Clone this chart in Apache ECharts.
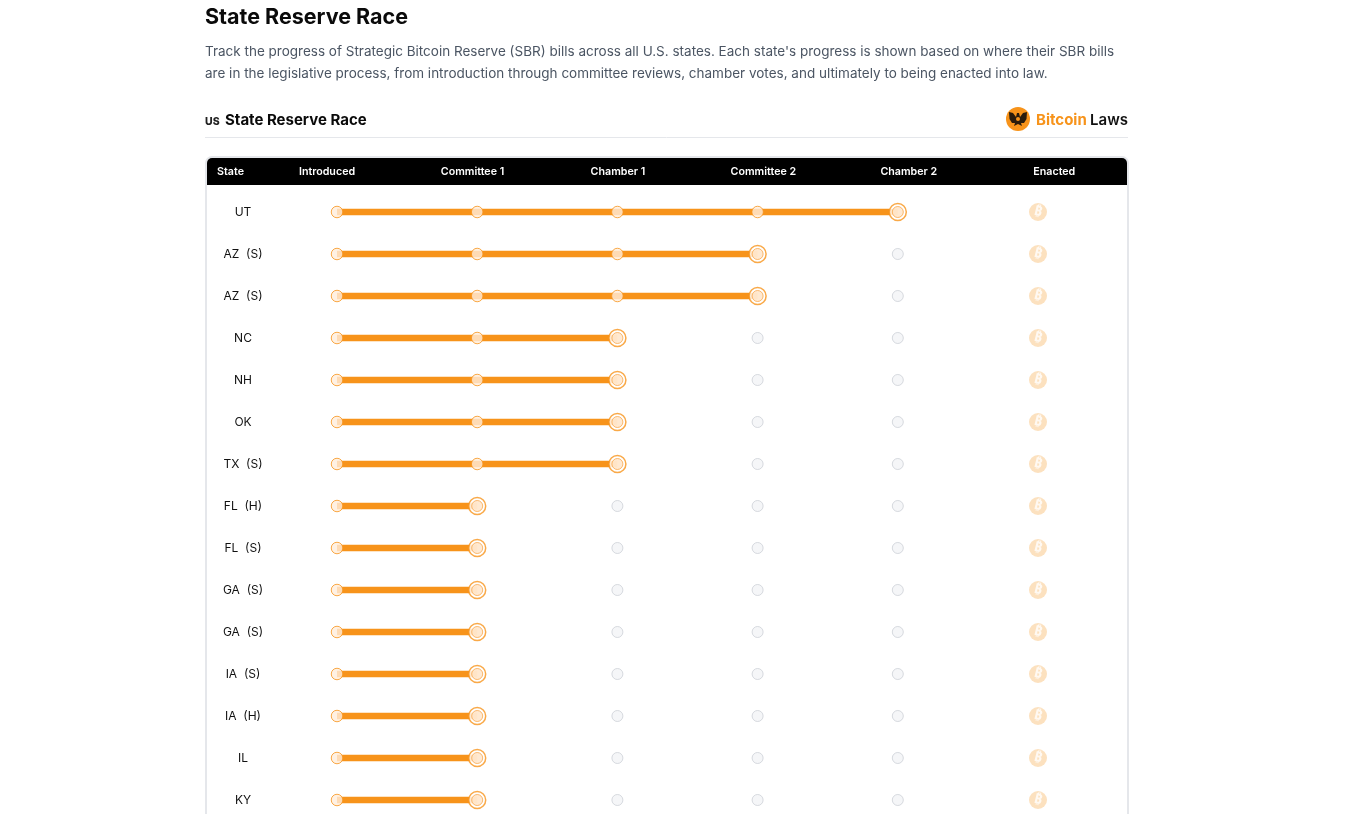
<!DOCTYPE html>
<html>
<head>
<meta charset="utf-8">
<title>State Reserve Race</title>
<script src="https://cdn.jsdelivr.net/npm/echarts@6/dist/echarts.min.js"></script>
<style>
  html, body { margin: 0; padding: 0; background: #fff; overflow: hidden; height: 814px; }
  /* the table runs past the bottom of the window, so the canvas does too */
  #chart { width: 1360px; height: 840px; }
</style>
</head>
<body>
<div id="chart"></div>
<script>
const stages = ["Introduced", "Committee 1", "Chamber 1", "Committee 2", "Chamber 2", "Enacted"];
const states = ["UT", "AZ  (S)", "AZ  (S)", "NC", "NH", "OK", "TX  (S)", "FL  (H)", "FL  (S)", "GA  (S)", "GA  (S)", "IA  (S)", "IA  (H)", "IL", "KY"];
// index of the stage each bill has reached
const progress = [4, 3, 3, 2, 2, 2, 2, 1, 1, 1, 1, 1, 1, 1, 1];

const ORANGE = "#F7931A";
const FONT = "Inter, 'Noto Sans', sans-serif";

const donePoints = [];
const currentPoints = [];
const pendingPoints = [];
const enactedPoints = [];
progress.forEach((p, row) => {
  for (let s = 0; s < 5; s++) {
    if (s < p) donePoints.push([s, row]);
    else if (s === p) currentPoints.push([s, row]);
    else pendingPoints.push([s, row]);
  }
  enactedPoints.push([5, row]);
});

const chart = echarts.init(document.getElementById("chart"));

chart.setOption({
  animation: false,
  textStyle: { fontFamily: FONT },
  title: [
    {
      text: "State Reserve Race",
      left: 205, top: 7,
      textStyle: { fontFamily: FONT, fontSize: 21.5, fontWeight: 700, color: "#0a0a0a" },
      padding: 0,
    },
    {
      text: "Track the progress of Strategic Bitcoin Reserve (SBR) bills across all U.S. states. Each state's progress is shown based on where their SBR bills\nare in the legislative process, from introduction through committee reviews, chamber votes, and ultimately to being enacted into law.",
      left: 205, top: 41,
      textStyle: { fontFamily: FONT, fontSize: 13.5, fontWeight: 400, color: "#4B5563", lineHeight: 22 },
      padding: 0,
    },
    {
      text: "State Reserve Race",
      left: 225, top: 113,
      textStyle: { fontFamily: FONT, fontSize: 15, fontWeight: 700, color: "#0a0a0a" },
      padding: 0,
    },
  ],
  graphic: [
    // table frame and black header band
    { type: "rect", z: -10, shape: { x: 206, y: 157, width: 922, height: 720, r: 6 },
      style: { fill: "#fff", stroke: "#E5E7EB", lineWidth: 2 } },
    { type: "rect", z: -9, shape: { x: 207, y: 158, width: 920, height: 27, r: [5, 5, 0, 0] },
      style: { fill: "#000" } },
    { type: "text", style: { x: 230.5, y: 171.5, text: "State", align: "center", verticalAlign: "middle",
      font: "600 10.7px " + FONT, fill: "#fff" } },
    // heading row
    { type: "line", shape: { x1: 205, y1: 137.5, x2: 1128, y2: 137.5 }, style: { stroke: "#E5E7EB", lineWidth: 1 } },
    { type: "text", style: { x: 205, y: 121.5, text: "US", verticalAlign: "middle",
      font: "800 10.5px " + FONT, fill: "#222" } },
    // seal logo: orange disc with a rough dark eagle
    { type: "circle", shape: { cx: 1018, cy: 119, r: 12 }, style: { fill: ORANGE } },
    { type: "polygon", shape: {
        points: [[1009, 112], [1013, 113], [1016, 117], [1017, 113], [1019, 113], [1020, 117], [1023, 113], [1027, 112],
          [1026.5, 119], [1024, 123], [1021, 123], [1022, 126], [1018, 124], [1014, 126], [1015, 123], [1012, 123], [1009.5, 119]] },
      style: { fill: "#2a1c0c" } },
    { type: "circle", shape: { cx: 1018, cy: 119, r: 2 }, style: { fill: ORANGE } },
    { type: "text", style: { x: 1036, y: 120.5, verticalAlign: "middle", text: "{a|Bitcoin} {b|Laws}",
      rich: {
        a: { font: "700 15px " + FONT, fill: ORANGE },
        b: { font: "600 15px " + FONT, fill: "#111" },
      } } },
  ],
  grid: [
    { left: 337, width: 701, top: 191, height: 630 },
    { left: 254.3, width: 872.7, top: 157, height: 1 },
  ],
  xAxis: [
    { type: "value", gridIndex: 0, min: 0, max: 5, show: false },
    {
      type: "category", gridIndex: 1, data: stages, position: "bottom",
      axisLine: { show: false }, axisTick: { show: false },
      axisLabel: { color: "#fff", fontSize: 10.7, fontWeight: 600, fontFamily: FONT, margin: 8, interval: 0 },
    },
  ],
  yAxis: [
    {
      type: "category", gridIndex: 0, data: states, inverse: true,
      axisLine: { show: false }, axisTick: { show: false },
      axisLabel: { color: "#111", fontSize: 12, fontFamily: FONT, align: "center", margin: 94, interval: 0 },
    },
    { type: "value", gridIndex: 1, show: false },
  ],
  series: [
    {
      name: "Progress", type: "bar", data: progress, barWidth: 6.5, z: 2,
      itemStyle: { color: ORANGE },
    },
    {
      name: "Pending", type: "scatter", data: pendingPoints, symbolSize: 11, z: 3,
      itemStyle: { color: "#F3F4F6", borderColor: "#CDD1D7", borderWidth: 1 },
    },
    {
      name: "Done", type: "scatter", data: donePoints, symbolSize: 11.5, z: 3,
      itemStyle: { color: "#FFEEDC", borderColor: ORANGE, borderWidth: 1 },
    },
    {
      name: "Current ring", type: "scatter", data: currentPoints, symbolSize: 17, z: 3,
      itemStyle: { color: "#fff", borderColor: ORANGE, borderWidth: 1.5 },
    },
    {
      name: "Current", type: "scatter", data: currentPoints, symbolSize: 11, z: 4,
      itemStyle: { color: "#FFE3C6", borderColor: "#F9A94F", borderWidth: 1 },
    },
    {
      name: "Enacted", type: "scatter", data: enactedPoints, symbolSize: 18, z: 3,
      itemStyle: { color: "#FBD9AF" },
      label: {
        show: true, position: "inside", formatter: "₿", color: "#fff",
        fontSize: 14, fontWeight: 700, fontFamily: "'DejaVu Sans', 'Noto Sans', sans-serif", rotate: -14,
      },
    },
  ],
});
</script>
</body>
</html>
